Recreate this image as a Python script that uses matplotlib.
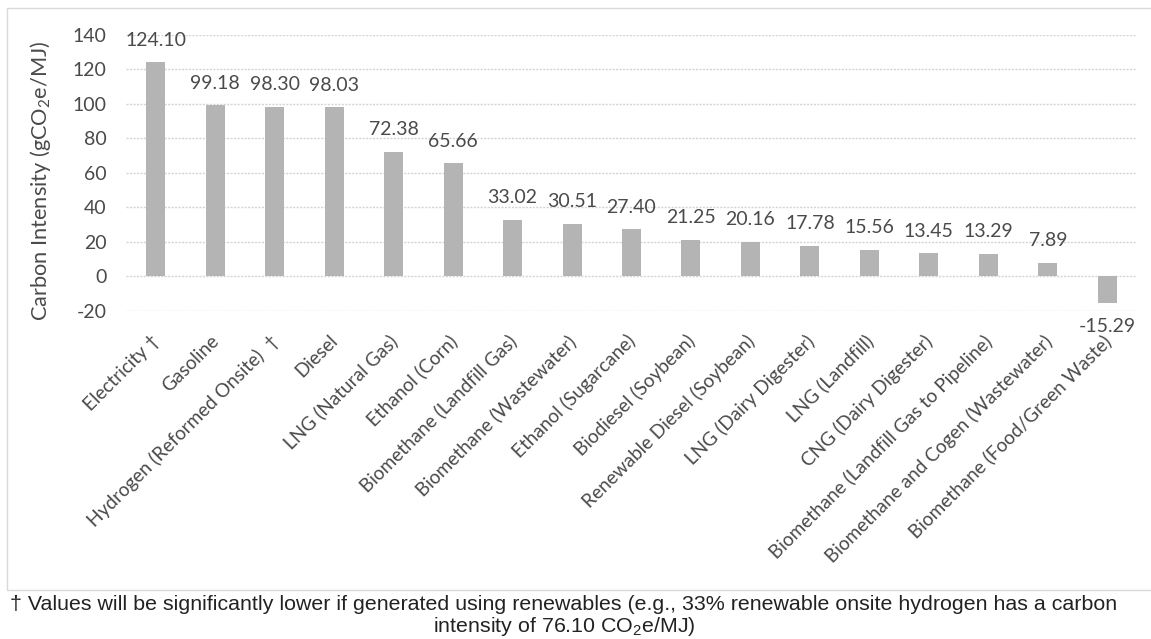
import matplotlib.pyplot as plt
import matplotlib.patches as patches
import matplotlib.transforms as mtransforms
import numpy as np

fuels = ['Electricity \u2020', 'Gasoline', 'Hydrogen (Reformed Onsite)  \u2020', 'Diesel',
         'LNG (Natural Gas)', 'Ethanol (Corn)', 'Biomethane (Landfill Gas)',
         'Biomethane (Wastewater)', 'Ethanol (Sugarcane)', 'Biodiesel (Soybean)',
         'Renewable Diesel (Soybean)', 'LNG (Dairy Digester)', 'LNG (Landfill)',
         'CNG (Dairy Digester)', 'Biomethane (Landfill Gas to Pipeline)',
         'Biomethane and Cogen (Wastewater)', 'Biomethane (Food/Green Waste)']
intensity = [124.10, 99.18, 98.30, 98.03, 72.38, 65.66, 33.02, 30.51, 27.40,
             21.25, 20.16, 17.78, 15.56, 13.45, 13.29, 7.89, -15.29]
yticks = [-20, 0, 20, 40, 60, 80, 100, 120, 140]

W, H = 1151, 639
fig = plt.figure(figsize=(W / 100, H / 100), dpi=100)
ax = fig.add_axes([126 / W, 1 - 311 / H, (1137 - 126) / W, (311 - 35) / H])

font = 'Lato'
txtc = '#4a4a4a'
x = np.arange(len(fuels))
ax.bar(x, intensity, width=0.32, color='#b4b4b4', zorder=3)
ax.set_xlim(-0.5, len(fuels) - 0.5)
ax.set_ylim(-20, 140)
ax.set_yticks(yticks)
ax.set_yticklabels([str(t) for t in yticks], fontsize=14, family=font, color=txtc)
ax.yaxis.grid(True, color='#d4d4d4', linestyle=(0, (1.5, 1)), linewidth=1, zorder=0)
ax.tick_params(axis='y', length=0, pad=14)
ax.tick_params(axis='x', length=0, pad=15)
for s in ax.spines.values():
    s.set_visible(False)

ax.set_xticks(x)
ax.set_xticklabels(fuels, rotation=45, ha='right', va='top', rotation_mode='anchor',
                   fontsize=13.7, family=font, color=txtc)
shift = mtransforms.ScaledTranslation(-5 / 100, 0, fig.dpi_scale_trans)
for lab in ax.get_xticklabels():
    lab.set_transform(lab.get_transform() + shift)

for xi, v in zip(x, intensity):
    off = 16 if v >= 0 else -17
    ax.annotate('%.2f' % v, (xi, v), xytext=(0, off), textcoords='offset points',
                ha='center', va='center', fontsize=14, family=font, color=txtc)

ax.set_ylabel('Carbon Intensity (gCO$\\mathregular{_2}$e/MJ)', fontsize=15.7, family=font,
              color=txtc)
ax.yaxis.set_label_coords(-0.0722, 0.471)

# chart border
fig.patches.append(patches.Rectangle((7 / W, 1 - 590 / H), (W + 10 - 7) / W, (590 - 8) / H,
                                     transform=fig.transFigure, fill=False,
                                     edgecolor='#d9d9d9', linewidth=1))

fig.text(564 / W, 1 - 604 / H,
         '\u2020 Values will be significantly lower if generated using renewables '
         '(e.g., 33% renewable onsite hydrogen has a carbon',
         ha='center', va='center', fontsize=15.4, family='Liberation Sans', color='#222222')
fig.text(564 / W, 1 - 626 / H, 'intensity of 76.10 CO$\\mathregular{_2}$e/MJ)',
         ha='center', va='center', fontsize=15.4, family='Liberation Sans', color='#222222')

fig.savefig('out.png', dpi=100)
